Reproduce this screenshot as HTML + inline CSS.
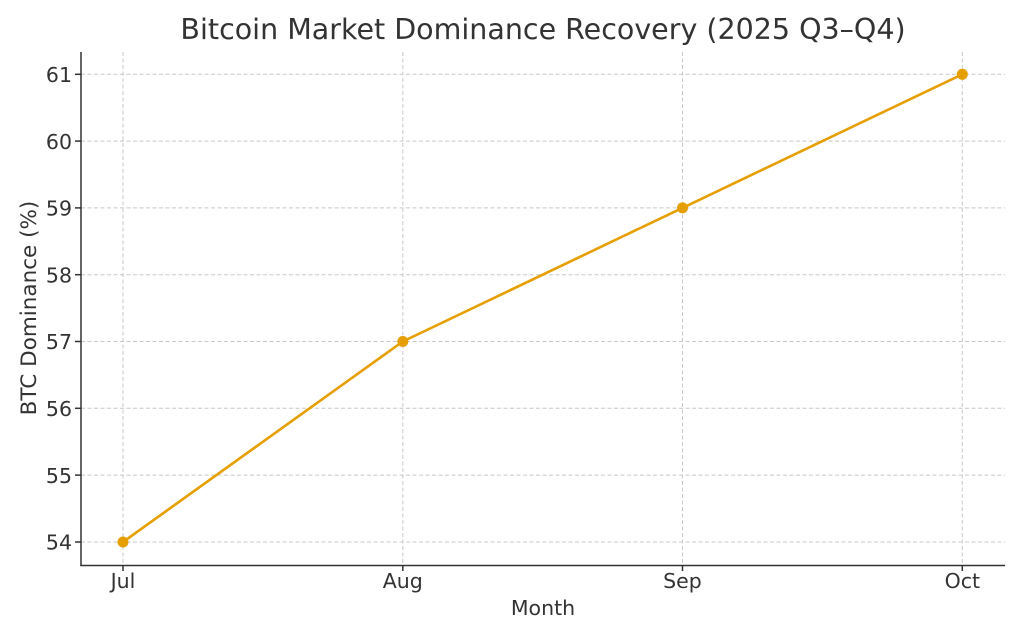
<!DOCTYPE html>
<html><head><meta charset="utf-8"><style>
html,body{margin:0;padding:0;background:#fff;}
svg{display:block;}
text{font-family:"DejaVu Sans","Liberation Sans",sans-serif;fill:#333;}
</style></head><body>
<svg width="1024" height="640" viewBox="0 0 1024 640" xmlns="http://www.w3.org/2000/svg">
<rect width="1024" height="640" fill="#fff"/>
<g stroke="#c8c8c8" stroke-width="1" stroke-dasharray="4,2.5">
<line x1="81" y1="74.3" x2="1005" y2="74.3"/>
<line x1="81" y1="141.1" x2="1005" y2="141.1"/>
<line x1="81" y1="207.9" x2="1005" y2="207.9"/>
<line x1="81" y1="274.7" x2="1005" y2="274.7"/>
<line x1="81" y1="341.5" x2="1005" y2="341.5"/>
<line x1="81" y1="408.3" x2="1005" y2="408.3"/>
<line x1="81" y1="475.1" x2="1005" y2="475.1"/>
<line x1="81" y1="542" x2="1005" y2="542"/>
<line x1="123" y1="52" x2="123" y2="565"/>
<line x1="402.8" y1="52" x2="402.8" y2="565"/>
<line x1="682.5" y1="52" x2="682.5" y2="565"/>
<line x1="962.3" y1="52" x2="962.3" y2="565"/>
</g>
<g stroke="#333" stroke-width="1.5">
<line x1="81" y1="52" x2="81" y2="566"/>
<line x1="80.25" y1="565.5" x2="1005" y2="565.5"/>
<line x1="75" y1="74.3" x2="81" y2="74.3"/>
<line x1="75" y1="141.1" x2="81" y2="141.1"/>
<line x1="75" y1="207.9" x2="81" y2="207.9"/>
<line x1="75" y1="274.7" x2="81" y2="274.7"/>
<line x1="75" y1="341.5" x2="81" y2="341.5"/>
<line x1="75" y1="408.3" x2="81" y2="408.3"/>
<line x1="75" y1="475.1" x2="81" y2="475.1"/>
<line x1="75" y1="542" x2="81" y2="542"/>
<line x1="123" y1="565" x2="123" y2="571"/>
<line x1="402.8" y1="565" x2="402.8" y2="571"/>
<line x1="682.5" y1="565" x2="682.5" y2="571"/>
<line x1="962.3" y1="565" x2="962.3" y2="571"/>
</g>
<polyline points="123,542 402.8,341.5 682.5,207.9 962.3,74.3" fill="none" stroke="#E69F00" stroke-width="2.6" stroke-linejoin="round"/>
<g fill="#E69F00">
<circle cx="123" cy="542" r="5.5"/>
<circle cx="402.8" cy="341.5" r="5.5"/>
<circle cx="682.5" cy="207.9" r="5.5"/>
<circle cx="962.3" cy="74.3" r="5.5"/>
</g>
<g font-size="20.5" text-anchor="end">
<text x="72" y="82">61</text>
<text x="72" y="148.8">60</text>
<text x="72" y="215.6">59</text>
<text x="72" y="282.4">58</text>
<text x="72" y="349.2">57</text>
<text x="72" y="416">56</text>
<text x="72" y="482.8">55</text>
<text x="72" y="549.7">54</text>
</g>
<g font-size="20.5" text-anchor="middle">
<text x="123" y="588">Jul</text>
<text x="402.8" y="588">Aug</text>
<text x="682.5" y="588">Sep</text>
<text x="962.3" y="588">Oct</text>
</g>
<text x="543" y="615" font-size="20.5" text-anchor="middle">Month</text>
<text transform="translate(36,308) rotate(-90)" font-size="21.5" text-anchor="middle">BTC Dominance (%)</text>
<text x="543" y="39" font-size="28.5" text-anchor="middle">Bitcoin Market Dominance Recovery (2025 Q3–Q4)</text>
</svg>
</body></html>
